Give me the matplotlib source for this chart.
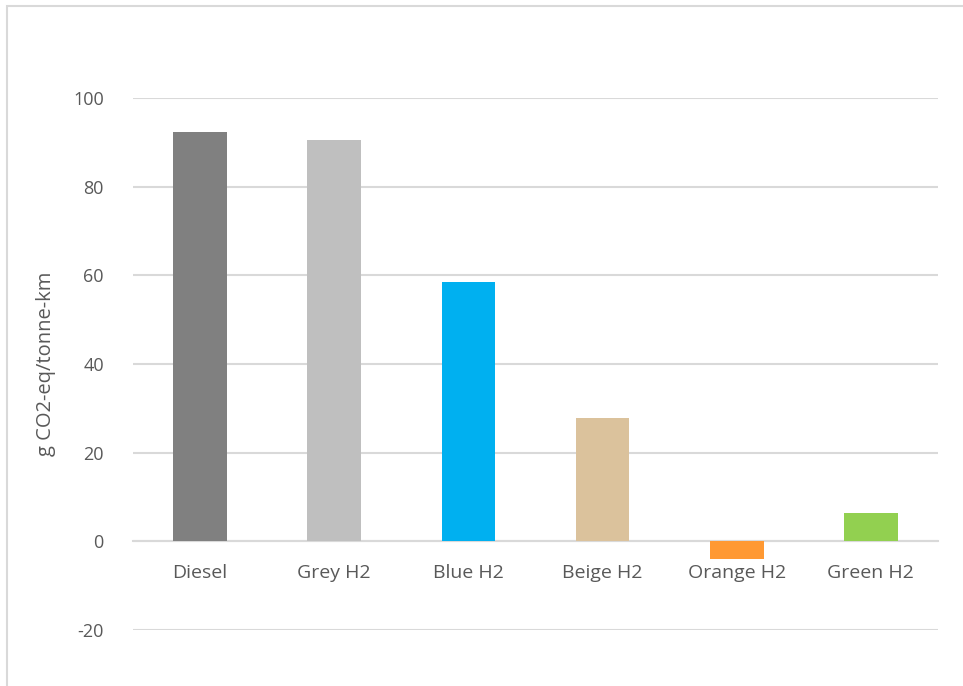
import matplotlib.pyplot as plt
from matplotlib.patches import Rectangle

# emissions per fuel pathway
fuels = ["Diesel", "Grey H2", "Blue H2", "Beige H2", "Orange H2", "Green H2"]
emissions = [92.3, 90.5, 58.5, 27.8, -4.0, 6.3]
bar_colors = ["#808080", "#bfbfbf", "#00b0f0", "#dbc29c", "#ff9933", "#92d050"]
y_ticks = [-20, 0, 20, 40, 60, 80, 100]

grid_col = "#d9d9d9"
text_col = "#595959"

plt.rcParams['font.family'] = ['Open Sans', 'DejaVu Sans']

fig = plt.figure(figsize=(9.63, 6.86), dpi=100)
ax = fig.add_axes([133 / 963, 1 - 630 / 686, (938 - 133) / 963, (630 - 98) / 686])

x = range(len(fuels))
ax.bar(x, emissions, width=0.4, color=bar_colors, zorder=3)

ax.set_xlim(-0.5, len(fuels) - 0.5)
ax.set_ylim(-20, 100)
ax.set_yticks(y_ticks)
ax.set_yticklabels([str(v) for v in y_ticks])
ax.set_xticks(list(x))
ax.set_xticklabels(fuels)

ax.grid(axis='y', color=grid_col, linewidth=1.5, zorder=0)
for s in ['top', 'right', 'left']:
    ax.spines[s].set_visible(False)
# category axis crosses at zero
ax.spines['bottom'].set_position(('data', 0))
ax.spines['bottom'].set_color(grid_col)
ax.spines['bottom'].set_linewidth(1.5)
ax.spines['bottom'].set_zorder(2)

ax.tick_params(axis='both', length=0, colors=text_col)
ax.tick_params(axis='y', pad=21, labelsize=13)
ax.tick_params(axis='x', pad=16, labelsize=14)

ax.set_ylabel("g CO2-eq/tonne-km", fontsize=14.5, color=text_col, labelpad=12)

# chart frame
fig.patches.append(Rectangle((7 / 963, -0.1), 1.2, 1.1 - 6 / 686,
                             transform=fig.transFigure, fill=False,
                             edgecolor=grid_col, linewidth=1.5))

fig.savefig("out.png", dpi=100, facecolor="white")
